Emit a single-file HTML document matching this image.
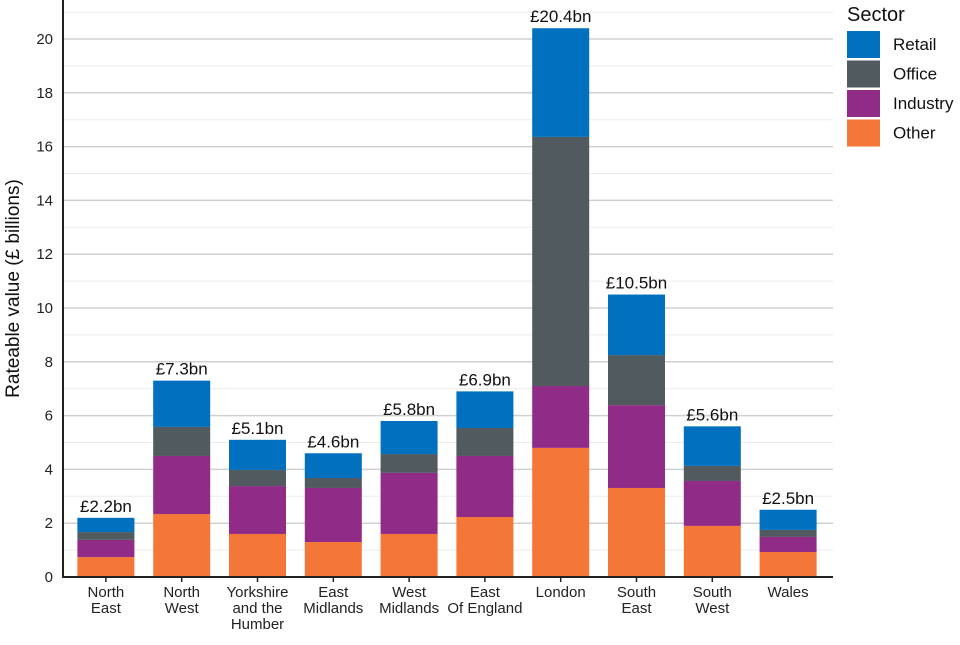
<!DOCTYPE html>
<html><head><meta charset="utf-8"><style>
body{margin:0;background:#fff;font-family:"Liberation Sans",sans-serif}
</style></head><body>
<svg id="c" width="960" height="640" font-family="Liberation Sans, sans-serif"></svg>
<script>
const categories=[["North","East"],["North","West"],["Yorkshire","and the","Humber"],["East","Midlands"],["West","Midlands"],["East","Of England"],["London"],["South","East"],["South","West"],["Wales"]];
const other=[0.74,2.34,1.6,1.3,1.6,2.23,4.8,3.31,1.9,0.93];
const industry=[0.64,2.16,1.78,2.01,2.27,2.27,2.3,3.08,1.67,0.56];
const office=[0.29,1.08,0.6,0.37,0.7,1.04,9.26,1.86,0.56,0.26];
const retail=[0.53,1.72,1.12,0.92,1.23,1.36,4.04,2.25,1.47,0.75];
const totalLabels=["£2.2bn","£7.3bn","£5.1bn","£4.6bn","£5.8bn","£6.9bn","£20.4bn","£10.5bn","£5.6bn","£2.5bn"];
const yTicks=[0,2,4,6,8,10,12,14,16,18,20];
const series=[{n:"Other",v:other,c:"#f47738"},{n:"Industry",v:industry,c:"#912b88"},{n:"Office",v:office,c:"#505a5f"},{n:"Retail",v:retail,c:"#0070bf"}];
const svg=document.getElementById('c');const NS="http://www.w3.org/2000/svg";
function mk(t,a,p){const e=document.createElementNS(NS,t);for(const k in a)e.setAttribute(k,a[k]);(p||svg).appendChild(e);return e;}
const AX=63,X0=68,X1=833,Y0=577,PU=26.9;
const y=v=>Y0-v*PU;
const step=75.8;
const xc=i=>X0+step*(i+0.5);
const bw=57;
for(let v=1;v<=21;v+=2){const l=mk('line',{x1:AX,x2:X1,y1:y(v),y2:y(v),stroke:'#ebebeb','stroke-width':1});}
yTicks.forEach(v=>{const l=mk('line',{x1:AX,x2:X1,y1:y(v),y2:y(v),stroke:'#d0d0d0','stroke-width':1.5});
const t=mk('text',{x:AX-10,y:y(v)+5,'text-anchor':'end','font-size':15,fill:'#222'});t.textContent=v;});
categories.forEach((cat,i)=>{let acc=0;
series.forEach(s=>{const v=s.v[i];const r=mk('rect',{x:xc(i)-bw/2,y:y(acc+v),width:bw,height:v*PU,fill:s.c});acc+=v;});
const t=mk('text',{x:xc(i),y:y(acc)-6,'text-anchor':'middle','font-size':17,fill:'#111'});t.textContent=totalLabels[i];
mk('line',{x1:xc(i),x2:xc(i),y1:Y0,y2:Y0+5,stroke:'#222','stroke-width':1.5});
cat.forEach((ln,j)=>{const tt=mk('text',{x:xc(i),y:Y0+20+j*16,'text-anchor':'middle','font-size':15,fill:'#222'});tt.textContent=ln;});});
const ax=mk('path',{d:`M${AX},0V${Y0}H${X1}`,fill:'none',stroke:'#222','stroke-width':2});
const yt=mk('text',{x:0,y:0,transform:`translate(19,${Y0/2}) rotate(-90)`,'text-anchor':'middle','font-size':19,fill:'#111'});yt.textContent="Rateable value (£ billions)";
const lt=mk('text',{x:847,y:21,'font-size':20,fill:'#111'});lt.textContent="Sector";
series.slice().reverse().forEach((s,k)=>{const r=mk('rect',{x:847,y:31+k*29.5,width:33,height:27,fill:s.c});
const t=mk('text',{x:893,y:50+k*29.5,'font-size':17,fill:'#111'});t.textContent=s.n;});
</script></body></html>
